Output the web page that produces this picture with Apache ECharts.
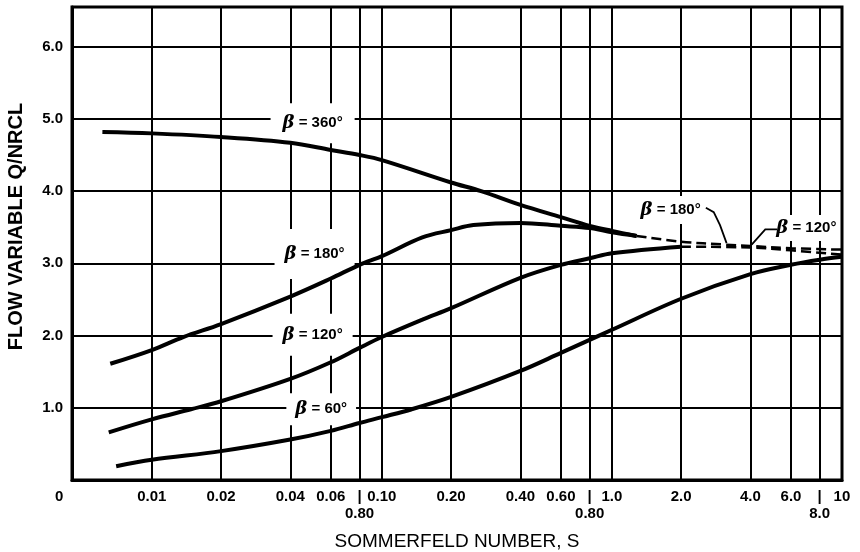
<!DOCTYPE html>
<html>
<head>
<meta charset="utf-8">
<script src="https://cdn.jsdelivr.net/npm/echarts@6/dist/echarts.min.js"></script>
<style>
  html, body { margin: 0; padding: 0; background: #fff; }
  #chart { width: 860px; height: 552px; }
</style>
</head>
<body>
<div id="chart"></div>
<script>
// axis
const X_MIN = 0.0045;
const X_MAX = 10;
const xGridValues = [0.01, 0.02, 0.04, 0.06, 0.08, 0.1, 0.2, 0.4, 0.6, 0.8, 1, 2, 4, 6, 8];
const xLabelValues = [0.00451, 0.01, 0.02, 0.04, 0.06, 0.08, 0.1, 0.2, 0.4, 0.6, 0.8, 1, 2, 4, 6, 8, 9.99];
const xLabelTexts = ['0', '0.01', '0.02', '0.04', '0.06', '|\n0.80', '0.10', '0.20', '0.40', '0.60', '|\n0.80', '1.0', '2.0', '4.0', '6.0', '|\n8.0', '10'];
const yTickValues = [1, 2, 3, 4, 5, 6];

// beta = 360 (solid)
const s360 = [0.0061, 0.01, 0.02, 0.04, 0.06, 0.08, 0.1, 0.2, 0.27, 0.4, 0.6, 0.8, 1.0, 1.28];
const q360 = [4.82, 4.80, 4.75, 4.67, 4.57, 4.50, 4.43, 4.12, 4.00, 3.81, 3.64, 3.52, 3.45, 3.38];

// beta = 180 (solid, then dashed)
const s180 = [0.0066, 0.01, 0.0137, 0.02, 0.04, 0.06, 0.08, 0.1, 0.15, 0.2, 0.25, 0.4, 0.6, 0.8, 1.0, 1.28];
const q180 = [1.61, 1.80, 1.98, 2.16, 2.54, 2.79, 2.98, 3.10, 3.36, 3.46, 3.53, 3.56, 3.52, 3.49, 3.43, 3.38];
const s180d = [1.28, 2, 3.1, 4, 6, 10];
const q180d = [3.38, 3.30, 3.26, 3.24, 3.21, 3.19];

// beta = 120 (solid, then dashed)
const s120 = [0.0065, 0.01, 0.0148, 0.02, 0.04, 0.06, 0.08, 0.1, 0.15, 0.2, 0.4, 0.6, 0.8, 1.0, 2.0];
const q120 = [0.66, 0.84, 0.98, 1.09, 1.40, 1.63, 1.83, 1.98, 2.22, 2.38, 2.80, 2.98, 3.07, 3.14, 3.23];
const s120d = [2, 4, 6, 10];
const q120d = [3.23, 3.22, 3.18, 3.12];

// beta = 60 (solid)
const s60 = [0.007, 0.01, 0.02, 0.04, 0.06, 0.08, 0.1, 0.135, 0.2, 0.4, 0.6, 0.8, 1, 2, 4, 6, 8, 10];
const q60 = [0.19, 0.28, 0.40, 0.56, 0.68, 0.79, 0.87, 0.98, 1.15, 1.51, 1.76, 1.94, 2.08, 2.51, 2.85, 2.98, 3.05, 3.09];

// curve labels
const labelS = [0.05, 0.051, 0.05, 0.0545, 1.8, 7.0];
const labelQ = [4.94, 3.13, 2.01, 0.98, 3.74, 3.49];
const labelText = ['360°', '180°', '120°', '60°', '180°', '120°'];

// leader arrows on the right
const lead180s = [2.56, 2.77, 2.95, 3.15];
const lead180q = [3.77, 3.71, 3.53, 3.28];
const lead120s = [5.22, 4.64, 4.05];
const lead120q = [3.47, 3.47, 3.26];

const pts = (xs, ys) => xs.map((x, i) => [x, ys[i]]);

// white box around each label (hides the grid behind it)
const labelPads = [[11, 12], [16, 10], [12, 10], [7, 9], [5, 3], [4, 3]];

const FONT = '"Liberation Sans", Arial, sans-serif';

function curve(xs, ys, dashed) {
  return {
    type: 'line',
    data: pts(xs, ys),
    symbol: 'none',
    smooth: 0.35,
    silent: true,
    z: 3,
    lineStyle: {
      color: '#000',
      width: dashed ? 2.5 : 4,
      type: dashed ? [10, 5] : 'solid'
    }
  };
}

const chart = echarts.init(document.getElementById('chart'));

const option = {
  backgroundColor: '#fff',
  animation: false,
  grid: {
    left: 72, right: 18, top: 7, bottom: 72,
    outerBoundsMode: 'none',
    show: true, borderColor: '#000', borderWidth: 3
  },
  xAxis: {
    type: 'log',
    logBase: 10,
    min: X_MIN,
    max: X_MAX,
    name: 'SOMMERFELD NUMBER, S',
    nameLocation: 'middle',
    nameGap: 52,
    nameTextStyle: { color: '#000', fontFamily: FONT, fontSize: 19 },
    axisLine: { show: true, onZero: false, lineStyle: { color: '#000', width: 3 } },
    axisTick: { show: false, customValues: xGridValues },
    axisLabel: {
      customValues: xLabelValues,
      color: '#000',
      fontFamily: FONT,
      fontSize: 15,
      fontWeight: 'bold',
      lineHeight: 17,
      margin: 8,
      formatter: function (v) {
        for (let i = 0; i < xLabelValues.length; i++) {
          if (Math.abs(Math.log10(v / xLabelValues[i])) < 0.01) {
            return i === 0 ? '{z|0}' : xLabelTexts[i];
          }
        }
        return '';
      },
      rich: {
        z: { fontFamily: FONT, fontSize: 15, fontWeight: 'bold', color: '#000', padding: [0, 26, 0, 0] }
      }
    },
    splitLine: { show: true, lineStyle: { color: '#000', width: 2 } }
  },
  yAxis: {
    type: 'value',
    min: 0,
    max: 6.55,
    interval: 1,
    name: 'FLOW VARIABLE Q/NRCL',
    nameLocation: 'middle',
    nameGap: 46,
    nameTextStyle: { color: '#000', fontFamily: FONT, fontSize: 20, fontWeight: 'bold', padding: [0, 0, 0, 34] },
    axisLine: { show: true, lineStyle: { color: '#000', width: 3 } },
    axisTick: { show: false },
    axisLabel: {
      customValues: yTickValues,
      color: '#000',
      fontFamily: FONT,
      fontSize: 15,
      fontWeight: 'bold',
      margin: 9,
      formatter: v => v.toFixed(1)
    },
    splitLine: { show: true, lineStyle: { color: '#000', width: 2 } }
  },
  series: [
    curve(s360, q360, false),
    curve(s180, q180, false),
    curve(s180d, q180d, true),
    curve(s120, q120, false),
    curve(s120d, q120d, true),
    curve(s60, q60, false),
    {
      type: 'lines',
      coordinateSystem: 'cartesian2d',
      polyline: true,
      silent: true,
      z: 4,
      symbol: ['none', 'arrow'],
      symbolSize: 9,
      lineStyle: { color: '#000', width: 1.8, opacity: 1 },
      data: [{ coords: pts(lead180s, lead180q) }, { coords: pts(lead120s, lead120q) }]
    },
    {
      type: 'scatter',
      silent: true,
      z: 1,
      symbolSize: 0,
      itemStyle: { color: 'rgba(0,0,0,0)', opacity: 1 },
      data: pts(labelS, labelQ).map((p, i) => ({
        value: p,
        label: {
          show: true,
          position: 'inside',
          opacity: 1,
          backgroundColor: '#fff',
          padding: labelPads[i],
          color: '#000',
          textBorderWidth: 0,
          fontFamily: FONT,
          fontSize: 15,
          fontWeight: 'bold',
          formatter: '{b|β} = ' + labelText[i],
          rich: {
            b: { fontFamily: '"DejaVu Serif", serif', fontStyle: 'italic', fontWeight: 'bold', fontSize: 18, color: '#000', textBorderWidth: 0 }
          }
        }
      }))
    }
  ]
};

chart.setOption(option);
window.addEventListener('resize', () => chart.resize());
</script>
</body>
</html>
